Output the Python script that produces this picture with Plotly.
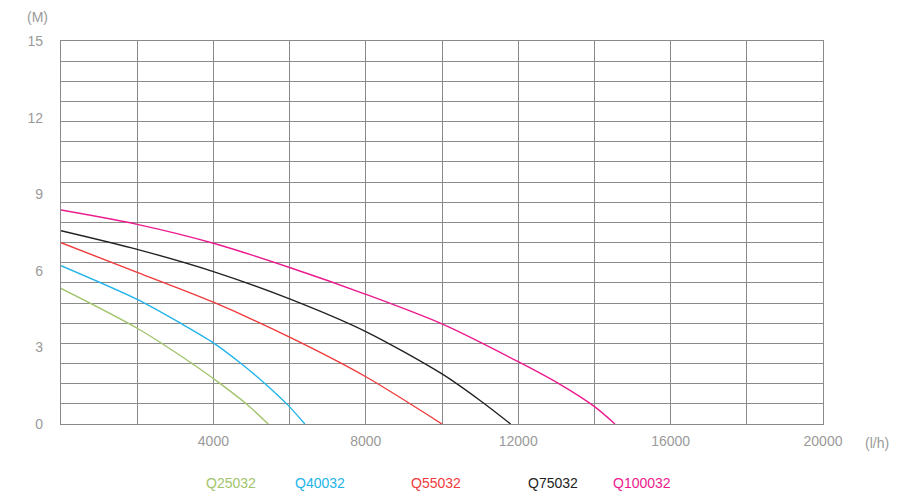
import plotly.graph_objects as go

# pump curves: flow (l/h) vs head (M)
models = ["Q25032", "Q40032", "Q55032", "Q75032", "Q100032"]
colors = ["#a2c46c", "#22b4ea", "#f03a3c", "#222222", "#ec1a8e"]

q25_flow = [0, 2000, 3430, 4170, 4870, 5440]
q25_head = [5.31, 3.75, 2.38, 1.59, 0.78, 0]

q40_flow = [0, 2000, 3170, 4000, 4700, 5350, 5970, 6400]
q40_head = [6.2, 4.88, 3.92, 3.18, 2.40, 1.59, 0.72, 0]

q55_flow = [0, 2000, 4000, 6000, 8000, 10000]
q55_head = [7.1, 5.94, 4.77, 3.40, 1.85, 0]

q75_flow = [0, 2000, 4000, 6000, 8000, 10000, 11000, 11800]
q75_head = [7.57, 6.84, 5.97, 4.90, 3.62, 1.96, 0.92, 0]

q100_flow = [0, 2000, 4000, 6000, 8000, 10000, 12000, 13100, 14020, 14540]
q100_head = [8.38, 7.82, 7.08, 6.13, 5.08, 3.92, 2.44, 1.55, 0.66, 0]

flows = [q25_flow, q40_flow, q55_flow, q75_flow, q100_flow]
heads = [q25_head, q40_head, q55_head, q75_head, q100_head]

x_ticks = [4000, 8000, 12000, 16000, 20000]
y_ticks = [0, 3, 6, 9, 12, 15]

grid = "#8a8a8a"
label_col = "#9a9a9a"

fig = go.Figure()
for name, col, fx, hy in zip(models, colors, flows, heads):
	fig.add_trace(go.Scatter(
		x = fx,
		y = hy,
		name = name,
		mode = "lines",
		line = dict(color = col, width = 1.4, shape = "spline", smoothing = 0.8),
		showlegend = False
	))

# coloured model names underneath instead of a legend box
legend_x = [0.188, 0.340, 0.492, 0.646, 0.803]
for name, col, lx in zip(models, colors, legend_x):
	fig.add_annotation(
		x = lx, y = -0.154, xref = "paper", yref = "paper",
		text = name, showarrow = False, yanchor = "middle",
		font = dict(color = col, size = 14)
	)

fig.add_annotation(x = -0.031, y = 1.063, xref = "paper", yref = "paper",
	text = "(M)", showarrow = False, xanchor = "center", yanchor = "middle",
	font = dict(color = label_col, size = 14))
fig.add_annotation(x = 1.071, y = -0.05, xref = "paper", yref = "paper",
	text = "(l/h)", showarrow = False, xanchor = "center", yanchor = "middle",
	font = dict(color = label_col, size = 14))

# page body has an 8px margin, so the figure is a bit smaller than the window
fig.update_layout(
	width = 884, height = 492,
	margin = dict(l = 53, r = 69, t = 33, b = 76),
	plot_bgcolor = "white",
	paper_bgcolor = "white",
	font = dict(family = "Liberation Sans", color = label_col, size = 14),
	xaxis = dict(
		range = [0, 20000],
		tickvals = x_ticks,
		ticktext = [str(v) for v in x_ticks],
		showgrid = True, gridcolor = grid, gridwidth = 1.4,
		minor = dict(dtick = 2000, tick0 = 0, showgrid = True, gridcolor = grid, gridwidth = 1.4),
		showline = True, linecolor = grid, linewidth = 1.4, mirror = True,
		zeroline = False, automargin = False,
		ticklabelstandoff = 4
	),
	yaxis = dict(
		range = [0, 15],
		tickvals = y_ticks,
		ticktext = [str(v) for v in y_ticks],
		showgrid = False,
		minor = dict(dtick = 15 / 19, tick0 = 0, showgrid = True, gridcolor = grid, gridwidth = 1.4),
		showline = True, linecolor = grid, linewidth = 1.4, mirror = True,
		zeroline = False, automargin = False,
		ticklabelstandoff = 14
	)
)

fig.write_html("out.html")
